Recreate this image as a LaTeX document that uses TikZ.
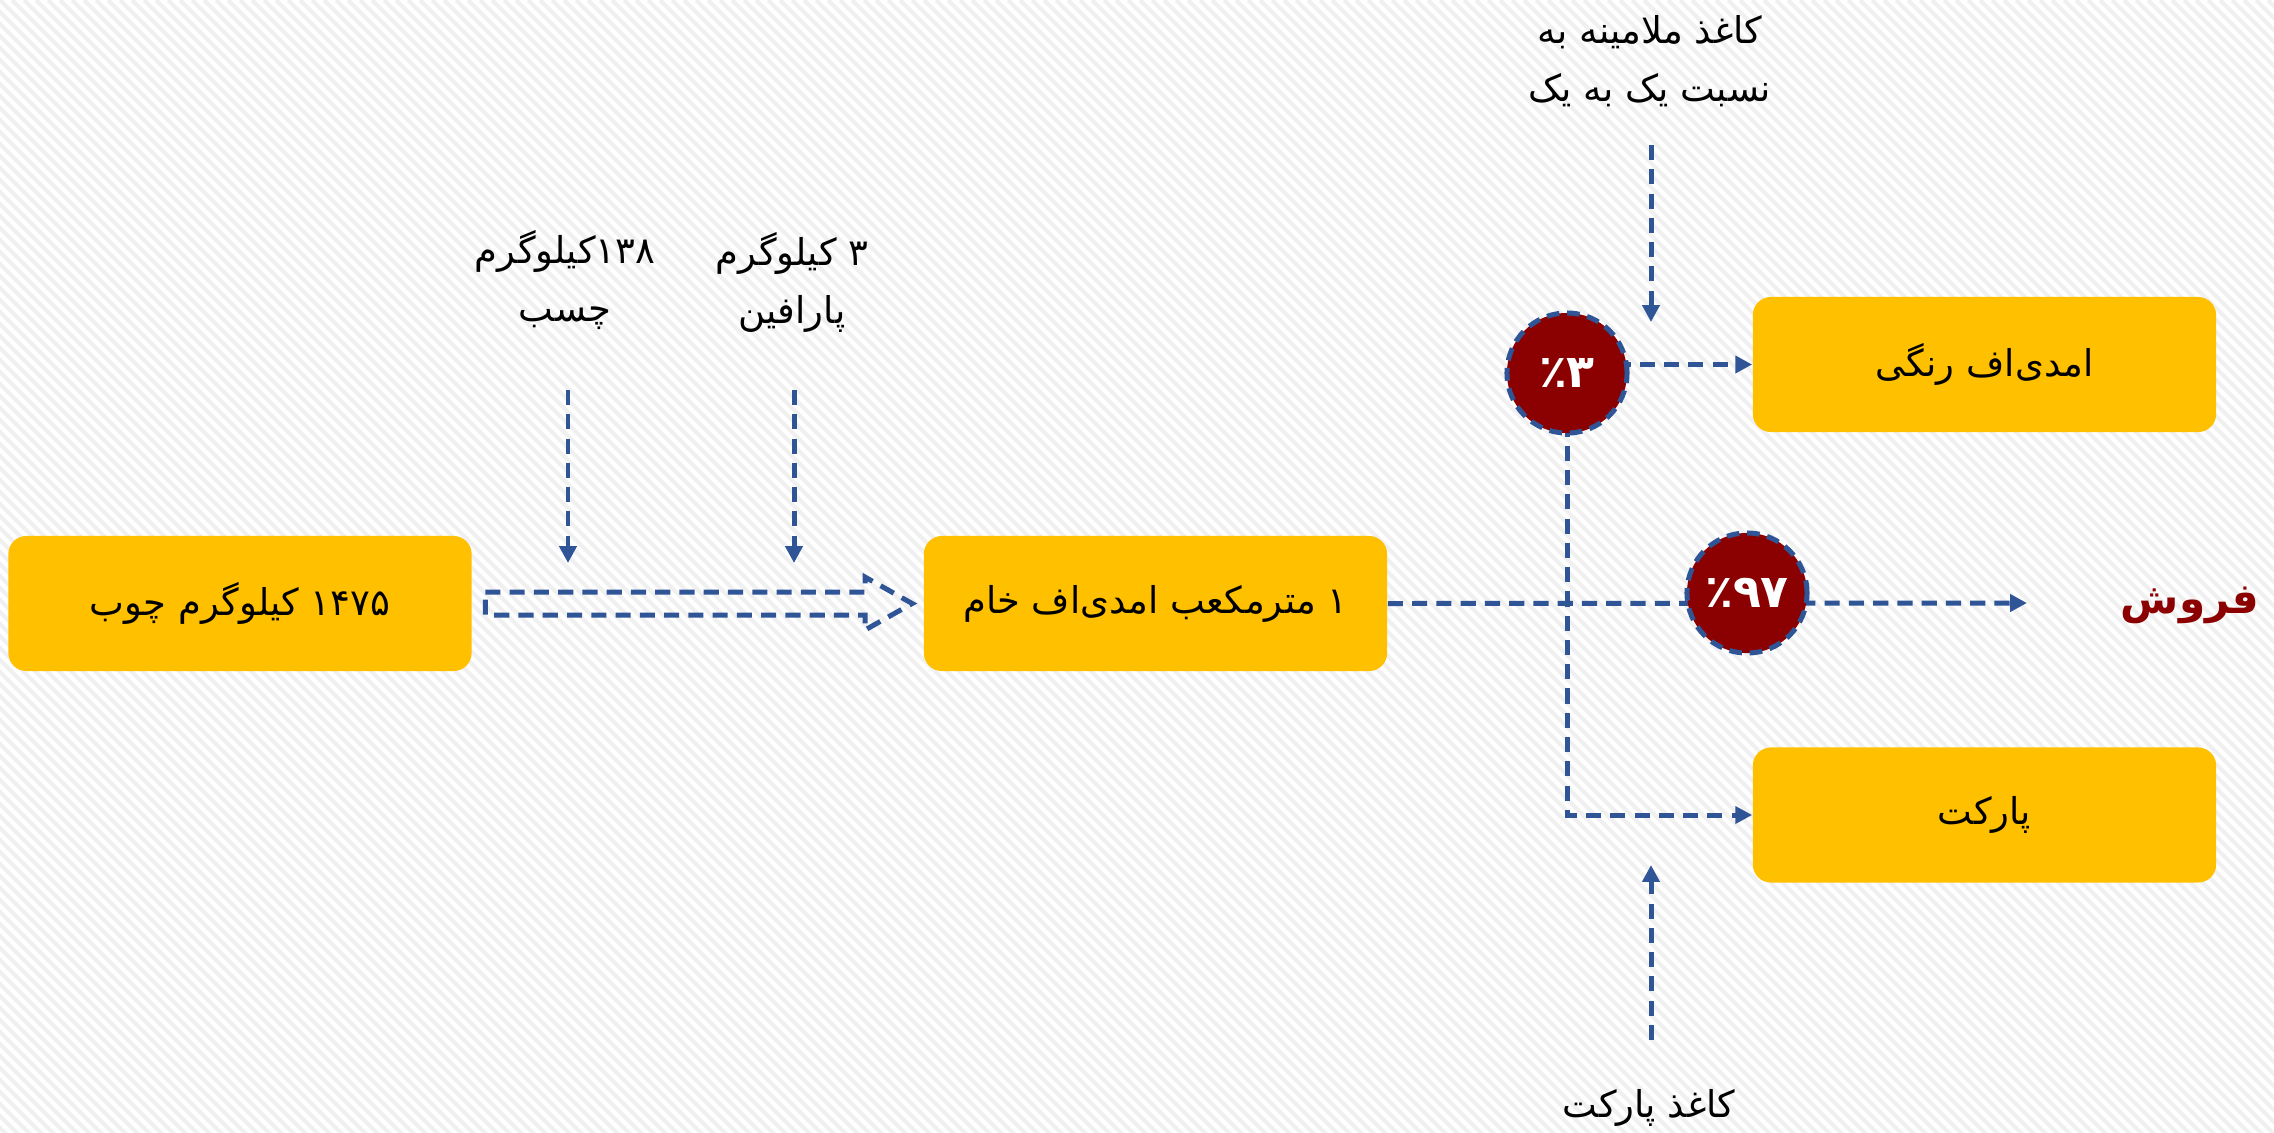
\documentclass[tikz,border=0pt]{standalone}
\usepackage{fontspec}
\TeXXeTstate=1
\newfontfamily\fa[Script=Arabic]{DejaVu Sans}
\usetikzlibrary{arrows.meta,calc}
\pgfdeclarelayer{back}
\pgfdeclarelayer{conn}
\pgfsetlayers{back,conn,main}
\definecolor{flowblue}{HTML}{2F5597}
\definecolor{boxyellow}{HTML}{FFC000}
\definecolor{darkred}{HTML}{8B0000}
\definecolor{stripegrey}{HTML}{F0F0F0}
\tikzset{
  boxnode/.style={rounded corners=0.18cm, fill=boxyellow, minimum width=4.63cm, minimum height=1.35cm, inner sep=0pt, font=\fa\fontsize{10.5pt}{12pt}\selectfont},
  flow/.style={draw=flowblue, line width=1.42pt, dash pattern=on 4.3pt off 2.6pt},
  arr/.style={flow, -{Triangle[length=4.8pt,width=4.8pt]}},
  pct/.style={circle, fill=darkred, draw=flowblue, line width=1.42pt, dash pattern=on 3.6pt off 2.2pt, minimum size=1.2cm, inner sep=0pt, text=white, font=\fa\bfseries\fontsize{13pt}{15pt}\selectfont},
  lbl/.style={align=center, inner sep=0pt, font=\fa\fontsize{10.5pt}{16.5pt}\selectfont},
}
\begin{document}
\begin{tikzpicture}[x=0.01cm,y=-0.01cm]
\useasboundingbox (0,0) rectangle (2274,1132);
\begin{pgfonlayer}{back}
\fill[white] (0,0) rectangle (2274,1132);
\begin{scope}
\clip (0,0) rectangle (2274,1132);
\foreach \i in {-1140,-1128,...,2280} \draw[stripegrey, line width=1.15pt] (\i,0) -- ++(1140,1140);
\end{scope}
\end{pgfonlayer}

% boxes
\node[boxnode] (wood) at (240,603.5) {\beginR ۱۴۷۵ کیلوگرم چوب\endR};
\node[boxnode] (mdf) at (1155.5,603.5) {\beginR ۱ مترمکعب امدی‌اف خام\endR};
\node[boxnode] (colored) at (1984.5,364.5) {\beginR امدی‌اف رنگی\endR};
\node[boxnode] (parquet) at (1984.5,815) {\beginR پارکت\endR};

% percentage circles
\node[pct] (c3) at (1567,373) {٪۳};
\node[pct] (c97) at (1747,593) {٪۹۷};

% labels
\node[lbl] (glue) at (565,280) {\beginR ۱۳۸کیلوگرم\endR\\\beginR چسب\endR};
\node[lbl] (paraffin) at (792,282) {\beginR ۳ کیلوگرم\endR\\\beginR پارافین\endR};
\node[lbl] (melamine) at (1650,61) {\beginR کاغذ ملامینه به\endR\\\beginR نسبت یک به یک\endR};
\node[lbl] (pqpaper) at (1649,1108) {\beginR کاغذ پارکت\endR};
\node[inner sep=0pt, text=darkred, font=\fa\bfseries\fontsize{12pt}{14pt}\selectfont] (sale) at (2190,605) {\beginR فروش\endR};

% free ends of connectors
\coordinate (glueS) at (568,390);
\coordinate (glueT) at (568,563);
\coordinate (parS) at (794,390);
\coordinate (parT) at (794,563);
\coordinate (melS) at (1651,145);
\coordinate (melT) at (1651,322);
\coordinate (pqS) at (1651,1040);
\coordinate (pqT) at (1651,865);
\coordinate (saleT) at (2027,603);

\begin{pgfonlayer}{conn}
\draw[arr] (glueS) -- (glueT);
\draw[arr] (parS) -- (parT);
\draw[arr] (melS) -- (melT);
\draw[arr] (pqS) -- (pqT);
% hollow block arrow wood -> mdf
\draw[flow, line join=miter] ($(wood.east)+(13,-11.5)$) -- (865,592) -- (865,577) -- ($(mdf.west)+(-11,0)$) -- (865,630) -- (865,615) -- ($(wood.east)+(13,11.5)$) -- cycle;
% mdf -> sale through 97%
\draw[arr] (mdf.east) -- (saleT);
% 3% -> colored
\draw[arr] (c3.center |- colored.west) -- (colored.west);
% 3% down -> parquet
\draw[arr] (c3.center) |- (parquet.west);
\end{pgfonlayer}
\end{tikzpicture}
\end{document}
